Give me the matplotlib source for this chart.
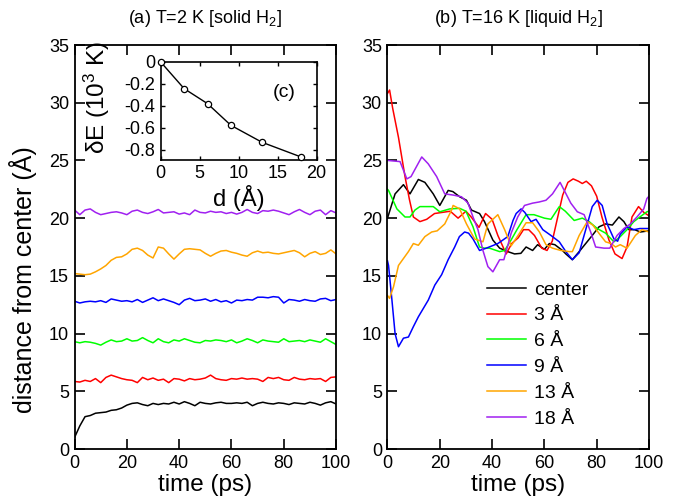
import numpy as np
import matplotlib
matplotlib.use("Agg")
import matplotlib.pyplot as plt

plt.rcParams['font.family'] = ['Liberation Sans', 'DejaVu Sans']
plt.rcParams['mathtext.fontset'] = 'custom'
plt.rcParams['mathtext.rm'] = 'Liberation Sans'
plt.rcParams['mathtext.it'] = 'Liberation Sans:italic'
plt.rcParams['axes.unicode_minus'] = False

labels = ["center", "3 Å", "6 Å", "9 Å", "13 Å", "18 Å"]
colors = ["black", "#ff0000", "#00ff00", "#0000ff", "#ffa500", "#a020f0"]

# (a) T=2 K, sampled every 2 ps
t_left = np.arange(0, 101, 2)
left_center = [1.0, 2.0, 2.8, 2.9, 3.1, 3.15, 3.2, 3.35, 3.4, 3.55, 3.8, 3.95, 4.0, 3.85, 3.75, 3.95,
               3.85, 3.95, 3.9, 4.05, 3.9, 4.1, 3.95, 3.75, 4.05, 3.95, 3.9, 4.0, 4.05, 3.95, 3.95, 4.0,
               3.95, 4.05, 3.75, 3.95, 4.05, 3.95, 3.9, 4.0, 3.95, 3.85, 4.0, 3.95, 3.9, 4.05, 3.95, 3.8,
               4.0, 4.1, 3.9]
left_3 = [5.85, 5.8, 5.95, 5.85, 6.1, 5.75, 6.2, 6.4, 6.25, 6.1, 6.0, 5.95, 5.75, 6.2, 6.0, 6.15,
          5.95, 6.05, 5.75, 6.1, 6.05, 5.9, 6.1, 6.0, 6.05, 6.15, 6.4, 6.1, 6.0, 5.95, 6.1, 6.05,
          6.15, 6.05, 6.1, 6.05, 5.85, 6.2, 6.1, 6.2, 6.0, 5.95, 6.2, 6.05, 6.0, 6.1, 6.05, 6.1,
          5.85, 6.2, 6.25]
left_6 = [9.3, 9.2, 9.3, 9.25, 9.15, 9.0, 9.25, 9.45, 9.3, 9.35, 9.55, 9.35, 9.4, 9.65, 9.4, 9.2,
          9.55, 9.3, 9.2, 9.45, 9.35, 9.55, 9.4, 9.25, 9.2, 9.4, 9.35, 9.45, 9.4, 9.3, 9.45, 9.2,
          9.35, 9.55, 9.4, 9.2, 9.45, 9.35, 9.3, 9.25, 9.55, 9.3, 9.35, 9.4, 9.3, 9.45, 9.35, 9.25,
          9.55, 9.3, 9.05]
left_9 = [12.8, 12.65, 12.75, 12.8, 12.75, 12.85, 12.7, 13.0, 12.9, 12.8, 12.85, 12.75, 12.95, 12.7,
          12.9, 13.1, 12.85, 13.0, 12.85, 12.7, 12.5, 12.9, 13.05, 12.85, 12.9, 13.0, 12.8, 12.95,
          12.75, 12.85, 12.65, 12.9, 12.85, 12.95, 12.9, 13.15, 13.15, 13.1, 13.2, 13.15, 12.65,
          12.95, 12.9, 12.8, 12.95, 12.85, 12.8, 13.0, 13.05, 12.85, 12.95]
left_13 = [15.2, 15.15, 15.1, 15.15, 15.35, 15.6, 15.9, 16.35, 16.6, 16.65, 16.9, 17.3, 17.4, 17.2,
           16.8, 16.55, 17.5, 17.4, 16.9, 16.45, 16.9, 17.3, 17.35, 17.3, 17.25, 16.95, 16.7, 16.95,
           17.15, 17.2, 17.05, 16.95, 16.8, 16.7, 17.0, 17.15, 17.0, 17.05, 16.95, 16.9, 17.0, 17.1,
           17.2, 17.0, 16.65, 16.95, 17.1, 16.85, 16.95, 17.25, 16.9]
left_18 = [20.7, 20.3, 20.7, 20.8, 20.5, 20.3, 20.4, 20.5, 20.55, 20.45, 20.3, 20.6, 20.7, 20.5,
           20.4, 20.55, 20.75, 20.45, 20.5, 20.55, 20.35, 20.45, 20.3, 20.7, 20.5, 20.45, 20.6,
           20.5, 20.55, 20.4, 20.5, 20.35, 20.5, 20.75, 20.5, 20.4, 20.65, 20.6, 20.7, 20.6, 20.45,
           20.3, 20.55, 20.75, 20.5, 20.3, 20.6, 20.7, 20.3, 20.65, 20.45]

# (b) T=16 K
t_r_center = [0, 2.9, 6.1, 8.6, 11.8, 14.3, 17.5, 20, 23.2, 25, 27.6, 30.2, 32.1, 35.2, 37.1, 40.3,
              42.9, 46, 48.6, 51, 53, 55.5, 57.4, 60, 61.9, 64, 66.9, 68.2, 70.7, 73.3, 75.8, 78.3,
              80.9, 83.4, 86, 88.5, 90.4, 92.3, 94.5, 96.7, 100]
r_center = [20.0, 22.1, 22.9, 22.1, 23.35, 23.1, 22.1, 21.1, 22.4, 22.3, 21.85, 21.55, 20.7, 20.4,
            19.7, 18.1, 17.4, 17.1, 16.9, 16.95, 17.5, 17.2, 17.7, 17.3, 17.8, 17.7, 17.2, 16.9,
            16.4, 17.1, 17.8, 18.5, 19.25, 19.5, 19.4, 20.1, 19.7, 19.0, 19.0, 18.8, 18.9]
t_r_3 = [0, 0.8, 2, 4.2, 6.7, 8.4, 9.9, 12.4, 15, 18, 21, 24, 27, 30, 32, 35, 37.5, 40, 42.2, 45.4,
         47.5, 50, 52, 54, 56.2, 59, 61, 63, 65, 67, 69, 71, 73, 74.5, 76, 78, 80, 82, 84.7, 87,
         89.7, 91.6, 93.5, 96, 98, 100]
r_3 = [30.8, 31.1, 29.5, 27.0, 23.6, 21.6, 20.1, 19.7, 19.9, 20.4, 20.5, 20.6, 20.0, 20.6, 20.1,
       19.2, 20.4, 19.9, 18.5, 16.9, 17.8, 18.3, 19.0, 19.0, 18.5, 17.4, 17.2, 18.0, 20.0, 22.0,
       23.1, 23.4, 23.2, 23.0, 23.2, 22.8, 21.9, 20.1, 18.1, 16.9, 16.5, 17.5, 20.1, 21.0, 20.5, 20.2]
t_r_6 = [0, 0.4, 3.6, 6.7, 8.6, 10.5, 12.4, 13.7, 17.5, 20, 23.8, 27.6, 30, 32.7, 35.2, 37.1, 39,
         42.9, 44.8, 47, 49.5, 53, 56, 60, 62.5, 65.7, 68, 71.4, 74.5, 77.1, 80.2, 83.4, 86.6, 89,
         91.6, 94.2, 96.5, 99.2, 100]
r_6 = [22.5, 22.4, 20.8, 20.1, 20.1, 20.7, 21.0, 21.0, 21.0, 20.55, 20.8, 20.85, 20.6, 19.25, 17.5,
       17.4, 17.4, 17.1, 17.2, 18.0, 19.0, 20.3, 20.3, 20.0, 19.9, 21.0, 20.6, 19.8, 20.0, 19.7,
       19.1, 18.7, 17.95, 18.4, 19.0, 19.7, 20.1, 20.55, 20.6]
t_r_9 = [0, 0.4, 1.7, 2.9, 4.2, 6.1, 8, 9.9, 11.8, 13.5, 15.6, 18.1, 20.7, 23.2, 25.7, 27.5, 29.5,
         31, 32.7, 35.2, 37.8, 40, 42.2, 46, 48, 49.2, 51.1, 52.5, 54.9, 56.8, 59.4, 62.5, 65.7,
         68.2, 70.7, 73.3, 75.8, 78.3, 80.2, 82.1, 84, 86.6, 88, 89, 91.6, 94.2, 96.5, 100]
r_9 = [16.3, 15.9, 12.9, 10.0, 8.86, 9.6, 9.7, 10.6, 11.45, 12.1, 12.9, 14.2, 15.1, 16.4, 17.5, 18.4,
       18.8, 18.7, 18.2, 17.2, 17.4, 17.6, 17.8, 18.4, 19.8, 20.4, 20.8, 20.5, 19.7, 19.9, 19.0,
       18.5, 17.95, 17.1, 16.4, 17.0, 19.0, 21.0, 21.55, 21.1, 19.5, 18.2, 18.0, 18.6, 19.25, 19.0,
       19.1, 19.1]
t_r_13 = [0, 0.8, 2.3, 4.2, 6.1, 8, 9.9, 11.8, 14.3, 16.9, 19, 21.9, 24.5, 25.1, 27.6, 30.2, 33.3,
          36.5, 38.4, 40.3, 42.2, 44.8, 47.3, 50.5, 53, 55.5, 58.1, 60.6, 63.1, 66.3, 69.5, 70.7,
          73.3, 76.4, 78.5, 81.5, 83.4, 85.5, 87.2, 89, 91.6, 94.8, 97.3, 100]
r_13 = [13.3, 13.05, 14.05, 15.9, 16.5, 17.1, 17.8, 17.65, 18.4, 18.8, 18.9, 19.5, 20.7, 21.1, 20.8,
        19.5, 18.2, 17.95, 19.5, 19.9, 20.3, 19.0, 17.6, 18.7, 19.6, 19.6, 18.8, 17.7, 17.4, 17.2,
        17.1, 17.1, 18.5, 19.7, 19.4, 18.5, 17.95, 17.8, 17.5, 17.7, 17.4, 18.5, 19.0, 18.8]
t_r_18 = [0, 4.8, 7.4, 9, 13.1, 15.6, 18.8, 21.9, 25.1, 28.3, 30.8, 32.7, 34.6, 36.5, 38.4, 40.3,
          42.9, 44.5, 47.3, 49.8, 52.4, 55.5, 58, 60.6, 63.1, 66, 67.6, 70.1, 72.6, 75.2, 77.7, 79.6,
          82.8, 85, 87.8, 90.4, 92.9, 95.4, 98, 99.2, 100]
r_18 = [25.0, 24.9, 23.4, 23.6, 25.3, 24.7, 23.6, 22.1, 22.0, 21.85, 21.3, 20.1, 19.0, 17.2, 15.8,
        15.35, 16.4, 16.4, 18.7, 20.1, 21.1, 21.3, 21.4, 21.55, 22.1, 23.1, 22.4, 21.3, 20.55, 20.3,
        18.8, 17.5, 17.4, 17.4, 18.5, 19.1, 19.5, 20.1, 20.8, 21.7, 21.9]

# (c) inset
d_inset = [0, 3, 6, 9, 13, 18]
dE_inset = [0.0, -0.243, -0.38, -0.578, -0.733, -0.867]

left_series = [left_center, left_3, left_6, left_9, left_13, left_18]
right_series = [(t_r_center, r_center), (t_r_3, r_3), (t_r_6, r_6),
                (t_r_9, r_9), (t_r_13, r_13), (t_r_18, r_18)]

fig = plt.figure(figsize=(6.81, 5.0), dpi=100)
axa = fig.add_axes([0.1095, 0.102, 0.384, 0.808])
axb = fig.add_axes([0.569, 0.102, 0.384, 0.808])


def style(ax):
    ax.set_xlim(0, 100)
    ax.set_ylim(0, 35)
    ax.set_xticks(range(0, 101, 20))
    ax.set_yticks(range(0, 36, 5))
    ax.tick_params(direction='in', top=True, right=True, length=7, width=1.2,
                   labelsize=13, pad=4)
    for s in ax.spines.values():
        s.set_linewidth(1.3)
    ax.set_xlabel("time (ps)", fontsize=17.5, labelpad=2)


for y, c in zip(left_series, colors):
    axa.plot(t_left, y, color=c, lw=1.1)
for (t, y), c, lab in zip(right_series, colors, labels):
    axb.plot(t, y, color=c, lw=1.1, label=lab)

style(axa)
style(axb)
axa.set_ylabel("distance from center (Å)", fontsize=18)
axa.yaxis.set_label_coords(-0.145, 0.42)
axa.set_title("(a) T=2 K [solid H$_2$]", fontsize=13, pad=16)
axb.set_title("(b) T=16 K [liquid H$_2$]", fontsize=13, pad=16)

axb.legend(loc='upper left', bbox_to_anchor=(0.35, 0.435), frameon=False, fontsize=14,
           handlelength=2.0, handletextpad=0.45, labelspacing=0.42, borderaxespad=0)

ins = fig.add_axes([0.236, 0.681, 0.229, 0.195])
ins.plot(d_inset, dE_inset, color='black', lw=1.0, marker='o', ms=4.5,
         mfc='white', mec='black', mew=0.9, clip_on=False, zorder=3)
ins.set_xlim(0, 20)
ins.set_ylim(-0.89, 0)
ins.set_xticks(range(0, 21, 5))
ins.set_yticks([0, -0.2, -0.4, -0.6, -0.8])
ins.set_yticklabels(["0", "-0.2", "-0.4", "-0.6", "-0.8"])
ins.tick_params(direction='in', top=True, right=True, length=3, width=1.0,
                labelsize=13, pad=4)
for s in ins.spines.values():
    s.set_linewidth(1.2)
ins.set_xlabel("d (Å)", fontsize=17, labelpad=2)
ins.set_ylabel("δE (10$^3$ K)", fontsize=17.5)
ins.yaxis.set_label_coords(-0.31, 0.64)
ins.text(0.79, 0.69, "(c)", transform=ins.transAxes, fontsize=14, ha='center', va='center')

fig.savefig("out.png", dpi=100)
